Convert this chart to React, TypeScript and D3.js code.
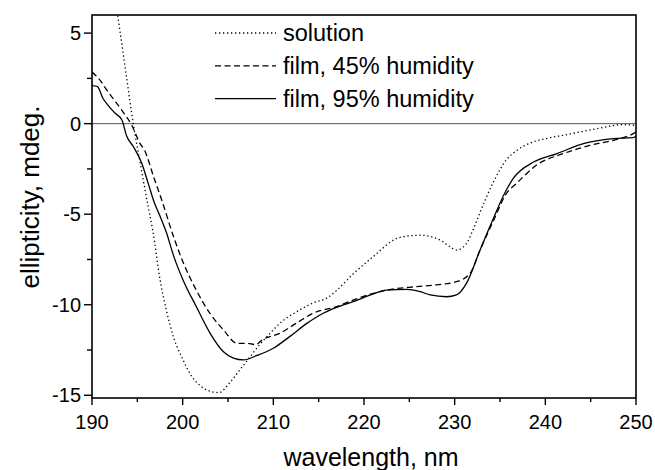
import React from "react";
import * as d3 from "d3";

// solution (dotted)
const solutionWl = [192.3, 193.0, 193.8, 194.55, 195.4, 196.2, 196.7, 197.5, 198.2, 199.0, 200.0, 200.8, 202.0, 203.2, 204.0, 205.2, 206.3, 207.4, 208.5, 209.6, 211.0, 212.2, 214.4, 216.0, 217.0, 218.8, 221.0, 223.6, 225.0, 226.2, 228.4, 229.5, 230.2, 231.3, 232.0, 232.8, 234.3, 235.7, 236.8, 238.7, 240.3, 242.0, 245.7, 248.6, 250.0];
const solutionMdeg = [7.7, 5.4, 2.6, 0, -2.4, -4.6, -5.9, -8.6, -10.3, -11.8, -13.0, -13.8, -14.5, -14.8, -14.85, -14.3, -13.6, -12.9, -12.2, -11.6, -10.9, -10.5, -9.9, -9.6, -9.2, -8.3, -7.35, -6.34, -6.2, -6.16, -6.43, -6.8, -6.98, -6.62, -5.9, -4.9, -3.2, -2.0, -1.5, -1.0, -0.8, -0.64, -0.28, -0.05, -0.1];

// film, 45% humidity (dashed)
const film45Wl = [190.0, 190.9, 191.5, 192.2, 193.3, 194.4, 195.3, 195.8, 196.8, 197.7, 199.0, 200.1, 201.5, 203.0, 204.5, 206.0, 207.1, 208.0, 208.9, 210.7, 212.6, 214.4, 217.0, 218.8, 222.5, 225.8, 228.0, 230.2, 231.7, 232.8, 234.3, 235.7, 236.8, 239.0, 242.0, 244.9, 248.2, 249.7, 250.0];
const film45Mdeg = [2.85, 2.39, 1.95, 1.47, 0.73, -0.1, -1.1, -1.47, -2.94, -4.23, -6.25, -7.72, -9.19, -10.47, -11.39, -12.13, -12.13, -12.2, -11.9, -11.58, -11.0, -10.47, -10.1, -9.74, -9.19, -9.0, -8.9, -8.73, -8.27, -6.98, -5.33, -3.86, -3.31, -2.3, -1.65, -1.2, -0.83, -0.55, -0.45];

// film, 95% humidity (solid)
const film95Wl = [190.0, 190.6, 191.2, 191.8, 192.5, 193.3, 193.8, 194.6, 195.5, 196.2, 196.9, 197.5, 198.2, 199.0, 200.1, 201.5, 203.0, 204.5, 205.6, 206.7, 208.2, 210.0, 211.8, 213.7, 215.5, 217.2, 218.8, 220.5, 222.5, 224.7, 226.2, 227.3, 229.1, 230.2, 231.3, 232.8, 234.3, 235.5, 236.5, 238.7, 241.3, 244.2, 247.5, 249.7, 250.0];
const film95Mdeg = [2.1, 2.05, 1.4, 1.0, 0.6, 0.2, -0.65, -1.3, -2.2, -3.3, -4.4, -5.1, -6.0, -7.3, -8.7, -10.1, -11.55, -12.6, -12.95, -13.05, -12.8, -12.4, -11.76, -11.03, -10.47, -10.1, -9.83, -9.5, -9.19, -9.15, -9.28, -9.46, -9.56, -9.46, -8.82, -6.98, -5.2, -3.86, -3.0, -2.12, -1.65, -1.1, -0.83, -0.77, -0.7];

const xTicks = [190, 200, 210, 220, 230, 240, 250];
const yTicks = [5, 0, -5, -10, -15];
const legendLabels = ["solution", "film, 45% humidity", "film, 95% humidity"];

const W = 655;
const H = 470;
const left = 92, right = 636, top = 15, bottom = 398;
const font = "Liberation Sans, Arial, Helvetica, sans-serif";

export default function App() {
  const x = d3.scaleLinear().domain([190, 250]).range([left, right]);
  const y = d3.scaleLinear().domain([-15.15, 6]).range([bottom, top]);

  const line = d3
    .line<[number, number]>()
    .x((d) => x(d[0]))
    .y((d) => y(d[1]))
    .curve(d3.curveMonotoneX);

  const zip = (a: number[], b: number[]) => a.map((v, i) => [v, b[i]] as [number, number]);

  const series = [
    { pts: zip(solutionWl, solutionMdeg), dash: "1.3,2.7" },
    { pts: zip(film45Wl, film45Mdeg), dash: "6,3.5" },
    { pts: zip(film95Wl, film95Mdeg), dash: null },
  ];

  const xMinor = d3.range(195, 250, 10);
  const yMinor = d3.range(-12.5, 5, 5);

  return (
    <svg width={W} height={H} style={{ position: "absolute", left: 0, top: 0, background: "#fff" }} fontFamily={font}>
      <defs>
        <clipPath id="plot">
          <rect x={left} y={top} width={right - left} height={bottom - top} />
        </clipPath>
      </defs>

      {/* zero line */}
      <line x1={left} x2={right} y1={y(0)} y2={y(0)} stroke="#555" strokeWidth={1} />

      <g clipPath="url(#plot)">
        {series.map((s, i) => (
          <path
            key={i}
            d={line(s.pts) || ""}
            fill="none"
            stroke="#000"
            strokeWidth={1.3}
            strokeDasharray={s.dash || undefined}
          />
        ))}
      </g>

      {/* frame */}
      <rect x={left} y={top} width={right - left} height={bottom - top} fill="none" stroke="#000" strokeWidth={1.6} />

      {/* x axis ticks */}
      {xTicks.map((t) => (
        <g key={"x" + t}>
          <line x1={x(t)} x2={x(t)} y1={bottom} y2={bottom + 7} stroke="#000" strokeWidth={1.4} />
          <text x={x(t)} y={bottom + 31} textAnchor="middle" fontSize={20}>
            {t}
          </text>
        </g>
      ))}
      {xMinor.map((t) => (
        <line key={"xm" + t} x1={x(t)} x2={x(t)} y1={bottom} y2={bottom + 4} stroke="#000" strokeWidth={1.4} />
      ))}

      {/* y axis ticks */}
      {yTicks.map((t) => (
        <g key={"y" + t}>
          <line x1={left - 8} x2={left} y1={y(t)} y2={y(t)} stroke="#000" strokeWidth={1.4} />
          <text x={left - 11} y={y(t)} textAnchor="end" dominantBaseline="central" fontSize={20}>
            {t}
          </text>
        </g>
      ))}
      {yMinor.map((t) => (
        <line key={"ym" + t} x1={left - 5} x2={left} y1={y(t)} y2={y(t)} stroke="#000" strokeWidth={1.4} />
      ))}

      {/* axis titles */}
      <text x={371} y={466} textAnchor="middle" fontSize={25}>
        wavelength, nm
      </text>
      <text transform={`translate(39,197) rotate(-90)`} textAnchor="middle" fontSize={26}>
        ellipticity, mdeg.
      </text>

      {/* legend */}
      {legendLabels.map((label, i) => {
        const ly = 33 + i * 32.8;
        return (
          <g key={label}>
            <line
              x1={215}
              x2={276}
              y1={ly}
              y2={ly}
              stroke="#000"
              strokeWidth={1.3}
              strokeDasharray={series[i].dash || undefined}
            />
            <text x={283} y={ly + 8} fontSize={23.5}>
              {label}
            </text>
          </g>
        );
      })}
    </svg>
  );
}
